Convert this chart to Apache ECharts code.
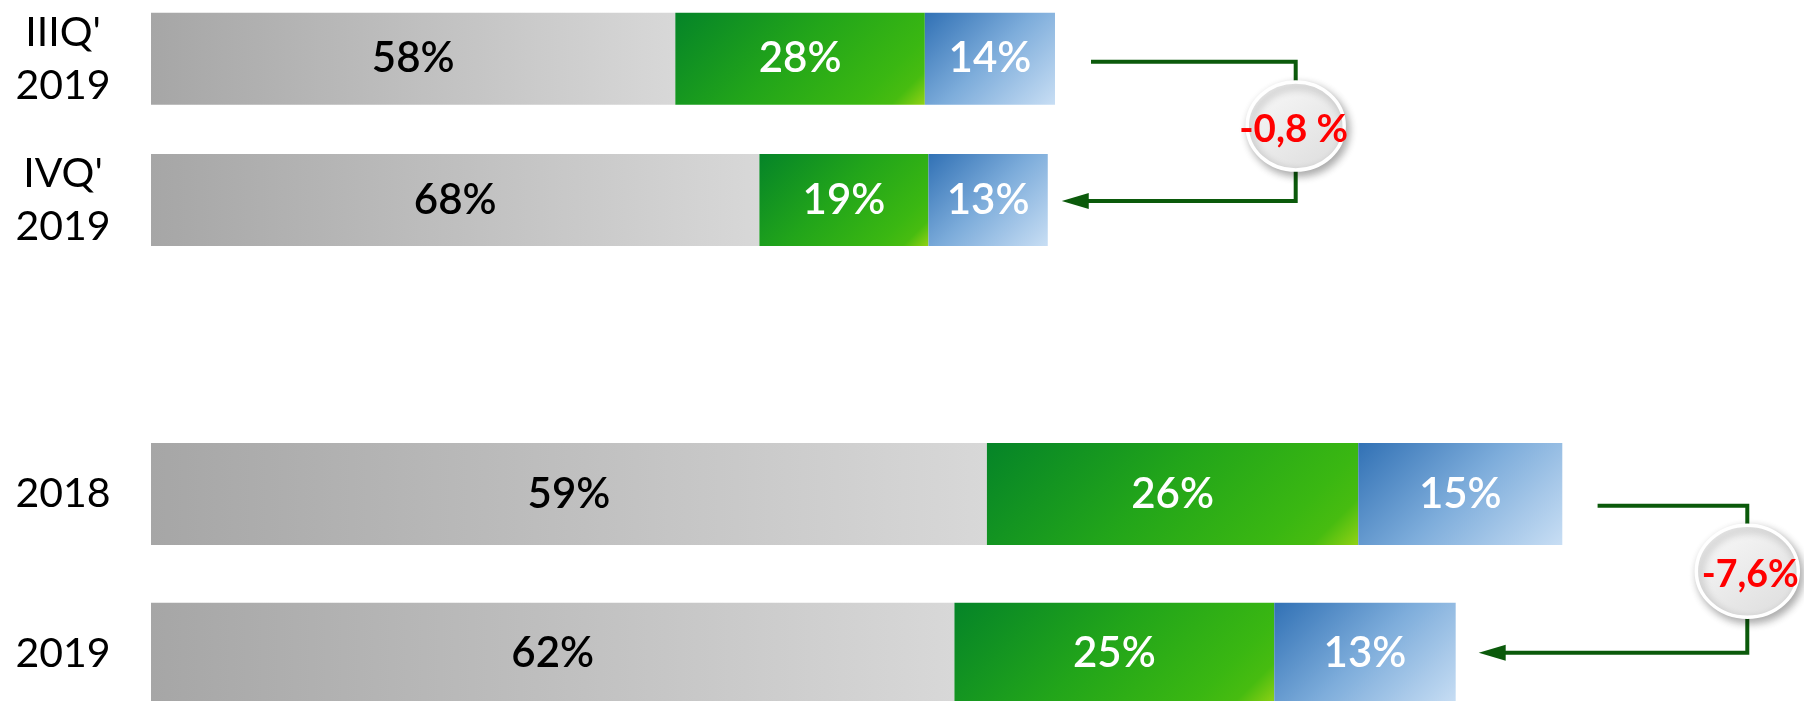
<!DOCTYPE html>
<html>
<head>
<meta charset="utf-8">
<style>
  html, body { margin: 0; padding: 0; background: #ffffff; }
  #chart { width: 1804px; height: 701px; }
</style>
<script src="https://cdn.jsdelivr.net/npm/echarts@6/dist/echarts.min.js"></script>
</head>
<body>
<div id="chart"></div>
<script>
// ---------- data ----------
const quarterCats = ["IIIQ'\n2019", "IVQ'\n2019"];
const quarterGray = [58.0, 67.3];
const quarterGreen = [27.6, 18.7];
const quarterBlue = [14.4, 13.2];
const quarterGrayLbl = ['58%', '68%'];
const quarterGreenLbl = ['28%', '19%'];
const quarterBlueLbl = ['14%', '13%'];
const quarterChange = '-0,8 %';

const yearCats = ['2018', '2019'];
const yearGray = [59.2, 56.9];
const yearGreen = [26.3, 22.65];
const yearBlue = [14.45, 12.85];
const yearGrayLbl = ['59%', '62%'];
const yearGreenLbl = ['26%', '25%'];
const yearBlueLbl = ['15%', '13%'];
const yearChange = '-7,6%';

// ---------- helpers ----------
function totals(a, b, c) { return a.map((v, i) => v + b[i] + c[i]); }
const quarterTotals = totals(quarterGray, quarterGreen, quarterBlue);
const yearTotals = totals(yearGray, yearGreen, yearBlue);

const FONT = 'Lato';
const GRID_W = [904, 1412];
const BAR_W = [92, 102];

const grayFill = new echarts.graphic.LinearGradient(0, 0, 1, 0, [
  { offset: 0, color: '#a6a6a6' }, { offset: 1, color: '#d8d8d8' }]);
const greenStops = [
  { offset: 0, color: '#058428' }, { offset: 0.45, color: '#22a51a' },
  { offset: 0.8, color: '#3ab712' }, { offset: 0.9, color: '#47bc10' },
  { offset: 1, color: '#92d214' }];
const blueStops = [
  { offset: 0, color: '#3171b5' }, { offset: 0.5, color: '#7eaddb' },
  { offset: 1, color: '#c8def4' }];

// 45-degree diagonal gradient fitted to each bar's size (size derived from value via the grid scale)
function diagFill(stops, gi) {
  return function (p) {
    const w = Math.max(1, p.value * GRID_W[gi] / 100);
    const h = BAR_W[gi];
    const a = (w + h) / 2;
    return new echarts.graphic.LinearGradient(0, 0, a / w, a / h, stops);
  };
}

function barSeries(name, data, labels, fill, textColor, gi, stack) {
  return {
    type: 'bar', name: name, stack: stack, xAxisIndex: gi, yAxisIndex: gi,
    barWidth: BAR_W[gi], data: data, silent: true,
    itemStyle: { color: fill },
    label: {
      show: true, position: 'inside', color: textColor,
      fontFamily: FONT, fontSize: 42, fontWeight: 600,
      formatter: p => labels[p.dataIndex]
    }
  };
}

function connector(cfg) {
  return function (params, api) {
    const a = api.coord([api.value(0), 0]);
    const b = api.coord([api.value(1), 1]);
    const vx = a[0] + cfg.vxOff;
    const y1 = a[1] + cfg.y1Off;
    const y2 = b[1] + cfg.y2Off;
    const x1 = a[0] + cfg.startGap;
    const tip = b[0] + cfg.tipGap;
    const ecy = (y1 + y2) / 2 + cfg.eyOff;
    const lc = '#0b5a0b';
    return {
      type: 'group',
      children: [
        { type: 'polyline', shape: { points: [[x1, y1], [vx, y1], [vx, y2], [tip + 20, y2]] },
          style: { stroke: lc, lineWidth: 4, fill: null } },
        { type: 'polygon', shape: { points: [[tip, y2], [tip + 27, y2 - 8], [tip + 27, y2 + 8]] },
          style: { fill: lc } },
        { type: 'ellipse', shape: { cx: vx, cy: ecy, rx: cfg.rx, ry: cfg.ry },
          style: {
            fill: new echarts.graphic.LinearGradient(0.2, 0, 0.8, 1, [
              { offset: 0, color: '#f8f8f8' }, { offset: 1, color: '#dedede' }]),
            stroke: '#ffffff', lineWidth: 3.5,
            shadowBlur: 8, shadowColor: 'rgba(0,0,0,0.32)', shadowOffsetX: 3, shadowOffsetY: 4
          } },
        { type: 'text', x: vx + cfg.txOff, y: ecy + 4,
          style: { text: cfg.text, fill: '#ff0000', font: 'bold ' + cfg.fs + 'px ' + FONT,
                   align: 'center', verticalAlign: 'middle' } }
      ]
    };
  };
}

const axisLabelCommon = {
  fontFamily: FONT, fontSize: 41, color: '#000000', align: 'center',
  margin: 88, lineHeight: 53
};

const option = {
  animation: false,
  backgroundColor: '#ffffff',
  grid: [
    { left: 151, width: GRID_W[0], top: -11.8, height: 282.4, containLabel: false, outerBoundsMode: 'none' },
    { left: 151, width: GRID_W[1], top: 414.2, height: 319.4, containLabel: false, outerBoundsMode: 'none' }
  ],
  xAxis: [
    { gridIndex: 0, type: 'value', min: 0, max: 100, show: false },
    { gridIndex: 1, type: 'value', min: 0, max: 100, show: false }
  ],
  yAxis: [
    { gridIndex: 0, type: 'category', inverse: true, data: quarterCats,
      axisLine: { show: false }, axisTick: { show: false }, splitLine: { show: false },
      axisLabel: axisLabelCommon },
    { gridIndex: 1, type: 'category', inverse: true, data: yearCats,
      axisLine: { show: false }, axisTick: { show: false }, splitLine: { show: false },
      axisLabel: axisLabelCommon }
  ],
  series: [
    barSeries('q-gray', quarterGray, quarterGrayLbl, grayFill, '#000000', 0, 'q'),
    barSeries('q-green', quarterGreen, quarterGreenLbl, diagFill(greenStops, 0), '#ffffff', 0, 'q'),
    barSeries('q-blue', quarterBlue, quarterBlueLbl, diagFill(blueStops, 0), '#ffffff', 0, 'q'),
    barSeries('y-gray', yearGray, yearGrayLbl, grayFill, '#000000', 1, 'y'),
    barSeries('y-green', yearGreen, yearGreenLbl, diagFill(greenStops, 1), '#ffffff', 1, 'y'),
    barSeries('y-blue', yearBlue, yearBlueLbl, diagFill(blueStops, 1), '#ffffff', 1, 'y'),
    {
      type: 'custom', xAxisIndex: 0, yAxisIndex: 0, silent: true, clip: false, z: 5,
      encode: { x: [0, 1], y: 2 },
      data: [[quarterTotals[0], quarterTotals[1], 0]],
      renderItem: connector({ vxOff: 240.7, y1Off: 3, y2Off: 1, startGap: 36, tipGap: 14,
                              eyOff: -5.4, rx: 48.5, ry: 44, text: quarterChange, fs: 38.5, txOff: -2 })
    },
    {
      type: 'custom', xAxisIndex: 1, yAxisIndex: 1, silent: true, clip: false, z: 5,
      encode: { x: [0, 1], y: 2 },
      data: [[yearTotals[0], yearTotals[1], 0]],
      renderItem: connector({ vxOff: 185, y1Off: 11.7, y2Off: -1, startGap: 35.3, tipGap: 23,
                              eyOff: -8, rx: 51, ry: 46, text: yearChange, fs: 37.5, txOff: 3 })
    }
  ]
};

const chart = echarts.init(document.getElementById('chart'), null, { renderer: 'canvas' });
chart.setOption(option);
</script>
</body>
</html>
